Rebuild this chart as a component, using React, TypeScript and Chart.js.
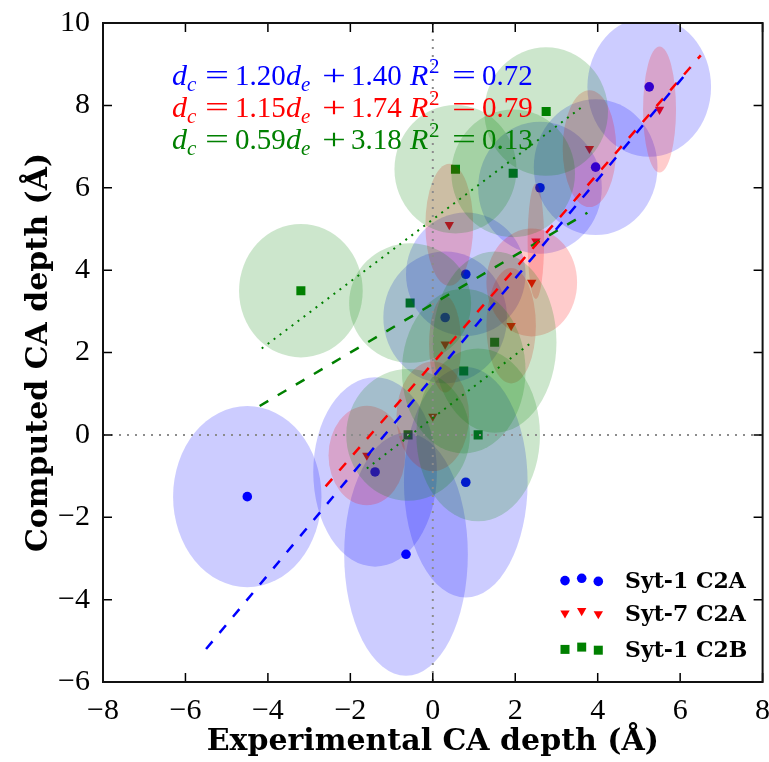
import React, { useEffect, useRef } from 'react';
import { Chart, registerables } from 'chart.js';

Chart.register(...registerables);

// ---------- data ----------
const seriesNames = ['Syt-1 C2A', 'Syt-7 C2A', 'Syt-1 C2B'];
const seriesColors = ['#0000ff', '#ff0000', '#008000'];
const ellipseFills = ['rgba(0,0,255,0.2)', 'rgba(255,0,0,0.2)', 'rgba(0,128,0,0.2)'];

// Syt-1 C2A (blue circles)
const syt1C2aExp = [-4.5, 5.25, 3.95, 2.6, 0.8, 0.3, -1.4, 0.8, -0.65];
const syt1C2aComp = [-1.5, 8.45, 6.5, 6.0, 3.9, 2.85, -0.9, -1.15, -2.9];
const syt1C2aExpErr = [1.8, 1.5, 1.5, 1.5, 1.45, 1.5, 1.5, 1.5, 1.5];
const syt1C2aCompErr = [2.2, 1.7, 1.65, 1.6, 1.5, 1.6, 2.3, 2.8, 2.95];

// Syt-7 C2A (red triangles)
const syt7C2aExp = [5.5, 3.8, 2.5, 0.4, 2.4, 1.9, 0.3, 0.0, -1.6];
const syt7C2aComp = [7.9, 6.95, 4.7, 5.1, 3.7, 2.65, 2.2, 0.45, -0.5];
const syt7C2aExpErr = [0.4, 0.65, 0.2, 0.58, 1.1, 0.6, 0.39, 0.88, 0.93];
const syt7C2aCompErr = [1.53, 1.42, 1.4, 1.48, 1.31, 1.4, 1.17, 1.33, 1.21];

// Syt-1 C2B (green squares)
const syt1C2bExp = [-3.2, -0.55, 0.55, 1.95, 2.75, 1.5, 0.75, -0.6, 1.1];
const syt1C2bComp = [3.5, 3.2, 6.45, 6.35, 7.85, 2.25, 1.55, 0.0, 0.0];
const syt1C2bExpErr = [1.5, 1.48, 1.48, 1.5, 1.5, 1.5, 1.5, 1.5, 1.5];
const syt1C2bCompErr = [1.62, 1.45, 1.56, 1.55, 1.56, 2.2, 2.0, 1.6, 2.1];

// linear fits d_c = a d_e + b
const fitSlopes = [1.2, 1.15, 0.59];
const fitIntercepts = [1.4, 1.74, 3.18];
const fitR2 = [0.72, 0.79, 0.13];

// dotted guide lines for Syt-1 C2B
const c2bBandSlopes = [0.755, 0.766];
const c2bBandIntercepts = [5.23, 0.41];
const c2bBandStart = [-4.15, -1.6];
const c2bBandEnd = [3.6, 2.4];

const xMin = -8, xMax = 8, yMin = -6, yMax = 10;
const xTicks = [-8, -6, -4, -2, 0, 2, 4, 6, 8];
const yTicks = [-6, -4, -2, 0, 2, 4, 6, 8, 10];

const xTitle = 'Experimental CA depth (Å)';
const yTitle = 'Computed CA depth (Å)';

// ---------- helpers ----------
const allExp = [syt1C2aExp, syt7C2aExp, syt1C2bExp];
const allComp = [syt1C2aComp, syt7C2aComp, syt1C2bComp];
const allExpErr = [syt1C2aExpErr, syt7C2aExpErr, syt1C2bExpErr];
const allCompErr = [syt1C2aCompErr, syt7C2aCompErr, syt1C2bCompErr];
const pointStyles = ['circle', 'triangle', 'rect'];
const pointRadii = [4.8, 5.4, 6.4];
const pointRotations = [0, 180, 0];

const fmt = (v: number) => (v < 0 ? '\u2212' + Math.abs(v) : String(v));

function drawMarker(ctx: CanvasRenderingContext2D, kind: number, x: number, y: number) {
  ctx.fillStyle = seriesColors[kind];
  ctx.beginPath();
  if (kind === 0) {
    ctx.arc(x, y, 4.8, 0, Math.PI * 2);
  } else if (kind === 1) {
    const r = 5.4;
    ctx.moveTo(x, y + r);
    ctx.lineTo(x - r * 0.866, y - r * 0.5);
    ctx.lineTo(x + r * 0.866, y - r * 0.5);
    ctx.closePath();
  } else {
    ctx.rect(x - 4.5, y - 4.5, 9, 9);
  }
  ctx.fill();
}

function drawEquation(ctx: CanvasRenderingContext2D, x0: number, y: number, color: string, slope: number, intercept: number, r2: number) {
  const main = `29px "Liberation Serif"`;
  const ital = `italic 30px "Liberation Serif"`;
  const subI = `italic 21px "Liberation Serif"`;
  const sup = `21px "Liberation Serif"`;
  const wide = (t: string, cx: number, w: number) => {
    ctx.save();
    ctx.font = main;
    const m = ctx.measureText(t).width;
    ctx.translate(x0 + cx, y);
    ctx.scale(w / m, 1);
    ctx.textAlign = 'center';
    ctx.fillText(t, 0, 0);
    ctx.restore();
  };
  ctx.save();
  ctx.fillStyle = color;
  ctx.textBaseline = 'alphabetic';
  ctx.textAlign = 'left';
  const put = (t: string, f: string, dx: number, dy = 0) => {
    ctx.font = f;
    ctx.fillText(t, x0 + dx, y + dy);
  };
  put('d', ital, 0);
  put('c', subI, 15, 6);
  wide('=', 45, 24);
  put(slope.toFixed(2), main, 63);
  put('d', ital, 114);
  put('e', subI, 129, 6);
  wide('+', 162, 24);
  put(intercept.toFixed(2), main, 179);
  put('R', ital, 238);
  put('2', sup, 257, -12);
  wide('=', 292, 24);
  put(r2.toFixed(2), main, 310);
  ctx.restore();
}

const ellipsePlugin = {
  id: 'ellipses',
  afterDatasetDraw(chart: any, args: any) {
    if (args.index !== 5) return;
    const { ctx, chartArea } = chart;
    const xs = chart.scales.x;
    const ys = chart.scales.y;
    ctx.save();
    ctx.beginPath();
    ctx.rect(chartArea.left, chartArea.top, chartArea.right - chartArea.left, chartArea.bottom - chartArea.top);
    ctx.clip();
    for (let s = 0; s < 3; s++) {
      ctx.fillStyle = ellipseFills[s];
      for (let i = 0; i < allExp[s].length; i++) {
        const cx = xs.getPixelForValue(allExp[s][i]);
        const cy = ys.getPixelForValue(allComp[s][i]);
        const rx = Math.abs(xs.getPixelForValue(allExp[s][i] + allExpErr[s][i]) - cx);
        const ry = Math.abs(ys.getPixelForValue(allComp[s][i] + allCompErr[s][i]) - cy);
        ctx.beginPath();
        ctx.ellipse(cx, cy, rx, ry, 0, 0, Math.PI * 2);
        ctx.fill();
      }
    }
    ctx.strokeStyle = '#8c8c8c';
    ctx.lineWidth = 2;
    ctx.setLineDash([2, 6]);
    const x0 = xs.getPixelForValue(0);
    const y0 = ys.getPixelForValue(0);
    ctx.beginPath();
    ctx.moveTo(x0, chartArea.top);
    ctx.lineTo(x0, chartArea.bottom);
    ctx.moveTo(chartArea.left, y0);
    ctx.lineTo(chartArea.right, y0);
    ctx.stroke();
    ctx.restore();
  },
};

const framePlugin = {
  id: 'frame',
  afterDraw(chart: any) {
    const { ctx, chartArea } = chart;
    const xs = chart.scales.x;
    const ys = chart.scales.y;
    const { left, right, top, bottom } = chartArea;
    ctx.save();
    ctx.strokeStyle = '#000';
    ctx.lineWidth = 1.5;
    const tl = 9;
    ctx.beginPath();
    for (const v of xTicks) {
      const px = xs.getPixelForValue(v);
      ctx.moveTo(px, bottom);
      ctx.lineTo(px, bottom - tl);
      ctx.moveTo(px, top);
      ctx.lineTo(px, top + tl);
    }
    for (const v of yTicks) {
      const py = ys.getPixelForValue(v);
      ctx.moveTo(left, py);
      ctx.lineTo(left + tl, py);
      ctx.moveTo(right, py);
      ctx.lineTo(right - tl, py);
    }
    ctx.stroke();
    ctx.lineWidth = 2;
    ctx.strokeStyle = '#111';
    ctx.strokeRect(left, top, right - left, bottom - top);

    const eqBase = [85, 117, 149];
    for (let s = 0; s < 3; s++) {
      drawEquation(ctx, 172, eqBase[s], seriesColors[s], fitSlopes[s], fitIntercepts[s], fitR2[s]);
    }

    const rowY = [580, 612.5, 648.8];
    const textY = [587.5, 621, 657];
    const mx = [565, 581.7, 598.3];
    const mdy = [0.6, -1.7, 1.4];
    for (let s = 0; s < 3; s++) {
      for (let k = 0; k < 3; k++) drawMarker(ctx, s, mx[k], rowY[s] + mdy[k]);
      ctx.fillStyle = '#000';
      ctx.font = 'bold 22px "DejaVu Serif"';
      ctx.textAlign = 'left';
      ctx.textBaseline = 'alphabetic';
      ctx.fillText(seriesNames[s], 625, textY[s]);
    }
    ctx.restore();
  },
};

export default function App() {
  const ref = useRef<HTMLCanvasElement | null>(null);
  useEffect(() => {
    if (!ref.current) return;
    const datasets: any[] = [];
    for (let s = 0; s < 3; s++) {
      const lo = Math.min(...allExp[s]) - 1;
      const hi = Math.max(...allExp[s]) + 1;
      datasets.push({
        label: 'fit ' + seriesNames[s],
        data: [
          { x: lo, y: fitSlopes[s] * lo + fitIntercepts[s] },
          { x: hi, y: fitSlopes[s] * hi + fitIntercepts[s] },
        ],
        showLine: true,
        borderColor: seriesColors[s],
        borderWidth: 2.5,
        borderDash: [10, 11],
        pointRadius: 0,
        fill: false,
      });
    }
    for (let b = 0; b < 2; b++) {
      datasets.push({
        label: 'band ' + b,
        data: [
          { x: c2bBandStart[b], y: c2bBandSlopes[b] * c2bBandStart[b] + c2bBandIntercepts[b] },
          { x: c2bBandEnd[b], y: c2bBandSlopes[b] * c2bBandEnd[b] + c2bBandIntercepts[b] },
        ],
        showLine: true,
        borderColor: seriesColors[2],
        borderWidth: 2,
        borderDash: [2, 5.5],
        pointRadius: 0,
        fill: false,
      });
    }
    for (let s = 0; s < 3; s++) {
      datasets.push({
        label: seriesNames[s],
        data: allExp[s].map((x, i) => ({ x, y: allComp[s][i] })),
        showLine: false,
        pointStyle: pointStyles[s],
        pointRadius: pointRadii[s],
        pointRotation: pointRotations[s],
        backgroundColor: seriesColors[s],
        borderWidth: 0,
      });
    }

    const tickFont = { family: '"Liberation Serif"', size: 30 };
    const titleFont = { family: '"DejaVu Serif"', size: 30, weight: 'bold' as const };

    const chart = new Chart(ref.current, {
      type: 'scatter',
      data: { datasets },
      options: {
        animation: false,
        responsive: false,
        devicePixelRatio: 1,
        events: [],
        layout: { padding: { top: 23, right: 6, left: 0, bottom: 0 } },
        plugins: { legend: { display: false }, tooltip: { enabled: false } },
        scales: {
          x: {
            type: 'linear',
            min: xMin,
            max: xMax,
            grid: { display: false, drawTicks: false },
            border: { display: false },
            ticks: { stepSize: 2, font: tickFont, color: '#000', padding: 11, callback: (v: any) => fmt(Number(v)) },
            title: { display: true, text: xTitle, font: titleFont, color: '#000', padding: { top: 0, bottom: 2 } },
            afterFit: (s: any) => {
              s.height = 80;
              s.paddingLeft = 0;
              s.paddingRight = 0;
            },
          },
          y: {
            type: 'linear',
            min: yMin,
            max: yMax,
            grid: { display: false, drawTicks: false },
            border: { display: false },
            ticks: { stepSize: 2, font: tickFont, color: '#000', padding: 13, callback: (v: any) => fmt(Number(v)) },
            title: { display: true, text: yTitle, font: titleFont, color: '#000', padding: { top: 21, bottom: 0 } },
            afterFit: (s: any) => {
              s.width = 103;
              s.paddingTop = 0;
              s.paddingBottom = 0;
            },
          },
        },
      } as any,
      plugins: [ellipsePlugin, framePlugin],
    });
    return () => chart.destroy();
  }, []);

  return (
    <div style={{ position: 'fixed', left: 0, top: 0, width: 769, height: 762, background: '#fff' }}>
      <canvas ref={ref} width={769} height={762} style={{ display: 'block', width: 769, height: 762 }} />
    </div>
  );
}
